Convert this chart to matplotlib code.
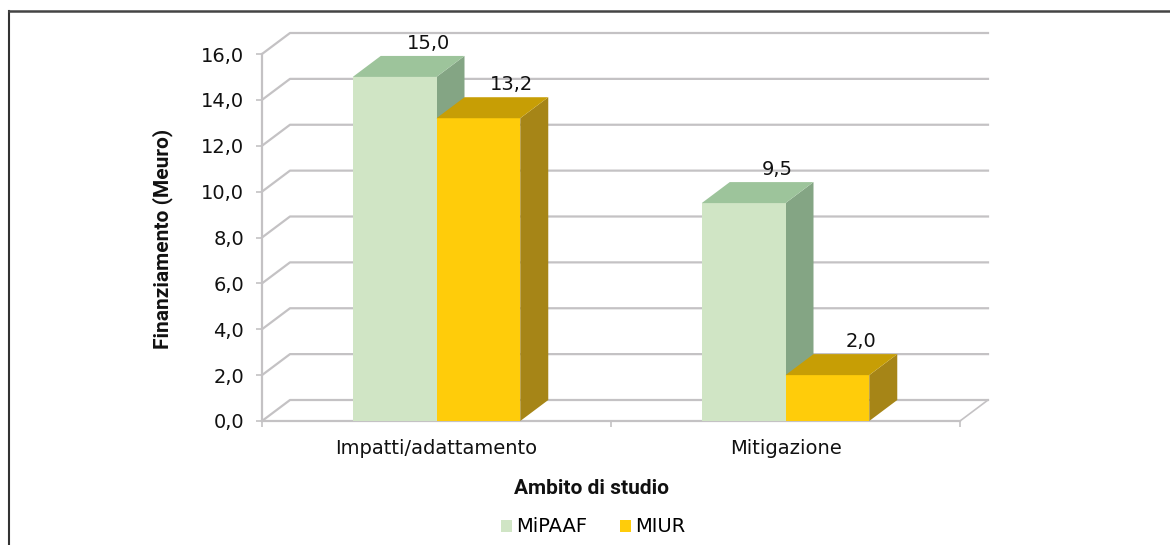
import numpy as np
import matplotlib
matplotlib.use('Agg')
import matplotlib.pyplot as plt
from matplotlib.patches import Polygon, Patch
from matplotlib.lines import Line2D
from matplotlib.ticker import FuncFormatter

plt.rcParams['font.family'] = ['DejaVu Sans']

categories = ['Impatti/adattamento', 'Mitigazione']
series_names = ['MiPAAF', 'MIUR']
mipaaf = [15.0, 9.5]
miur = [13.2, 2.0]
yticks = [0, 2, 4, 6, 8, 10, 12, 14, 16]

# front / top / side colours of each series
colors = {
    'MiPAAF': ('#D0E5C5', '#9DC49B', '#84A584'),
    'MIUR': ('#FFCC0A', '#C79E05', '#A68517'),
}
grid_c = '#C4C2C4'
txt_c = '#111111'
fs = 14

W, H = 1170, 545
fig = plt.figure(figsize=(W / 100, H / 100), dpi=100)

# axes placed so that the front plane matches the reference
x0, x1, ytop, ybot = 262, 960, 54, 421
ax = fig.add_axes([x0 / W, (H - ybot) / H, (x1 - x0) / W, (ybot - ytop) / H])
ax.set_xlim(-0.5, 1.5)
ax.set_ylim(0, 16)

# depth of the pseudo-3D effect (pixels -> data units)
ddx = 28 * 2.0 / (x1 - x0)
ddy = 21 * 16.0 / (ybot - ytop)

xa, xb = ax.get_xlim()
for v in yticks:
    ax.plot([xa, xa + ddx, xb + ddx], [v, v + ddy, v + ddy],
            color=grid_c, lw=1.6, clip_on=False, zorder=1)
ax.plot([xb, xb + ddx], [0, ddy], color=grid_c, lw=1.2, clip_on=False, zorder=1)

for s in ['top', 'right']:
    ax.spines[s].set_visible(False)
for s in ['left', 'bottom']:
    ax.spines[s].set_color(grid_c)
    ax.spines[s].set_linewidth(1.6)

ax.set_yticks(yticks)
ax.yaxis.set_major_formatter(FuncFormatter(lambda v, p: f'{v:.1f}'.replace('.', ',')))
ax.tick_params(axis='y', color=grid_c, length=4, width=1.2, pad=9, labelsize=fs,
               labelcolor=txt_c)
ax.set_xticks(range(len(categories)))
ax.set_xticklabels(categories)
ax.set_xticks([-0.5, 0.5, 1.5], minor=True)
ax.tick_params(axis='x', which='major', length=0, pad=13, labelsize=fs, labelcolor=txt_c)
ax.tick_params(axis='x', which='minor', color=grid_c, length=4, width=1.2)

bw = 0.24


def draw_bar(xl, v, cols):
    front, top, side = cols
    xr = xl + bw
    ax.add_patch(Polygon([(xr, 0), (xr + ddx, ddy), (xr + ddx, v + ddy), (xr, v)],
                         closed=True, facecolor=side, edgecolor='none', zorder=3, clip_on=False))
    ax.add_patch(Polygon([(xl, 0), (xr, 0), (xr, v), (xl, v)],
                         closed=True, facecolor=front, edgecolor='none', zorder=3, clip_on=False))
    ax.add_patch(Polygon([(xl, v), (xr, v), (xr + ddx, v + ddy), (xl + ddx, v + ddy)],
                         closed=True, facecolor=top, edgecolor='none', zorder=3, clip_on=False))
    ax.text(xl + bw / 2 + ddx * 1.2, v + ddy + 0.12, f'{v:.1f}'.replace('.', ','),
            ha='center', va='bottom', fontsize=fs, color=txt_c, zorder=4)


for i in range(len(categories)):
    draw_bar(i - bw, mipaaf[i], colors['MiPAAF'])
    draw_bar(i, miur[i], colors['MIUR'])

fig.text(163 / W, 1 - 239 / H, 'Finanziamento (Meuro)', rotation=90, ha='center',
         va='center', fontsize=15, fontweight='bold', color=txt_c, family='Roboto')
fig.text(591 / W, 1 - 488 / H, 'Ambito di studio', ha='center', va='center',
         fontsize=15, fontweight='bold', color=txt_c, family='Roboto')

handles = [Patch(facecolor=colors[n][0], edgecolor='none') for n in series_names]
fig.legend(handles, series_names, loc='center', bbox_to_anchor=(593 / W, 1 - 527 / H),
           ncol=2, frameon=False, fontsize=fs, handlelength=0.57, handleheight=0.57,
           handletextpad=0.2, columnspacing=1.7, borderpad=0, borderaxespad=0)

# outer frame (top and left edges)
fig.add_artist(Line2D([9 / W, 9 / W], [0, 1 - 11 / H], color='#333333', lw=1.5))
fig.add_artist(Line2D([9 / W, 1], [1 - 11 / H, 1 - 11 / H], color='#444444', lw=1.8))

fig.savefig('out.png', dpi=100)
